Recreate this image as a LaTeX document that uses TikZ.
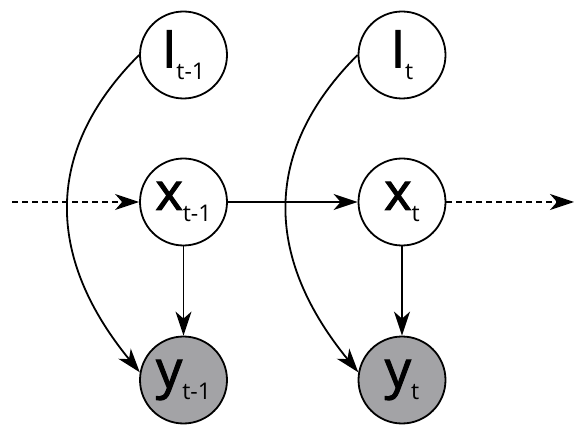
\documentclass[tikz,border=0pt]{standalone}
\usepackage{fontspec}
\setmainfont{Open Sans}
\newfontfamily\bigfont{Open Sans}[FakeBold=2]
\usetikzlibrary{arrows.meta}
\begin{document}
\begin{tikzpicture}[x=1pt,y=-1pt,
  var/.style={circle,draw=black,line width=1.8pt,minimum size=87pt,inner sep=0pt,fill=white},
  obs/.style={var,fill={rgb,255:red,163;green,163;blue,166}},
  conn/.style={line width=1.8pt,-{Stealth[length=24pt,width=16pt,inset=7pt]}},
  dconn/.style={conn,dash pattern=on 6pt off 4pt}]
\useasboundingbox (0,0) rectangle (581,438);
\newcommand{\lbl}[2]{{\bigfont\fontsize{52}{52}\selectfont #1}\raisebox{-12pt}{\fontsize{23}{23}\selectfont #2}}
\node[var] (I1) at (183.5,55) {\lbl{I}{t-1}};
\node[var] (I2) at (402,55) {\lbl{I}{t}};
\node[var] (x1) at (183.5,202) {\lbl{x}{t-1}};
\node[var] (x2) at (402,202) {\lbl{x}{t}};
\node[obs] (y1) at (183.5,380) {\lbl{y}{t-1}};
\node[obs] (y2) at (402,380) {\lbl{y}{t}};
\coordinate (L) at (12,202);
\coordinate (R) at (574,202);
\draw[dconn] (L) -- (x1);
\draw[dconn] (x2) -- (R);
\draw[conn] (x1) -- (x2);
\draw[conn] (x1) -- (y1);
\draw[conn] (x2) -- (y2);
\draw[conn] (I1.180) .. controls +(-100,100) and +(-90,-110) .. (y1.170);
\draw[conn] (I2.180) .. controls +(-100,100) and +(-90,-110) .. (y2.170);
\end{tikzpicture}
\end{document}
